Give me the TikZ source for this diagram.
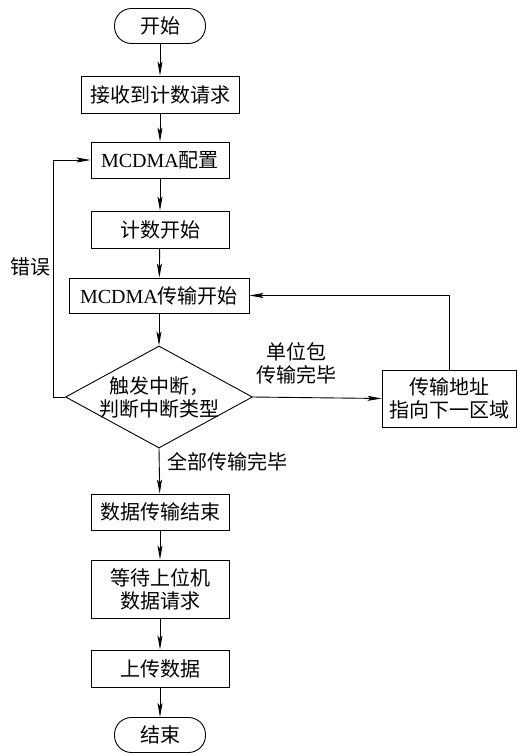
\documentclass[tikz,border=0pt]{standalone}
\usepackage{fontspec}
\setmainfont{Noto Sans CJK SC}
\newfontfamily\latin{Liberation Serif}
\usetikzlibrary{arrows.meta,shapes.geometric}
\begin{document}
\begin{tikzpicture}[x=1pt,y=-1pt,line width=0.9pt,
    font=\fontsize{20}{23}\selectfont,
    >={Stealth[length=14pt,width=5pt,inset=3pt]},
    stepbox/.style={draw,rectangle,inner sep=0pt,align=center},
    termbox/.style={draw,rectangle,rounded corners=17pt,minimum width=91pt,minimum height=35pt,inner sep=0pt},
    decide/.style={draw,diamond,aspect=1.83,inner sep=-3pt,minimum width=187pt,minimum height=102pt,align=center}]
    \useasboundingbox (0,0) rectangle (526,753);
    \node[termbox] (start) at (160,26) {开始};
    \node[stepbox,minimum width=158pt,minimum height=37pt] (recv) at (160,94.5) {接收到计数请求};
    \node[stepbox,minimum width=138pt,minimum height=36pt] (conf) at (160,160) {{\latin MCDMA}配置};
    \node[stepbox,minimum width=138pt,minimum height=37pt] (count) at (160,229.5) {计数开始};
    \node[stepbox,minimum width=180pt,minimum height=35pt] (trans) at (159,295.5) {{\latin MCDMA}传输开始};
    \node[decide] (irq) at (159,397) {触发中断，\\判断中断类型};
    \node[stepbox,minimum width=134pt,minimum height=57pt] (addr) at (449,398.5) {传输地址\\指向下一区域};
    \node[stepbox,minimum width=138pt,minimum height=36pt] (done) at (160,512) {数据传输结束};
    \node[stepbox,minimum width=138pt,minimum height=58pt] (wait) at (160,589) {等待上位机\\数据请求};
    \node[stepbox,minimum width=138pt,minimum height=37pt] (upload) at (160,668.5) {上传数据};
    \node[termbox] (stop) at (160,735) {结束};
    \coordinate (errturn) at (53,397);
    \node (errlbl) at (30,267) {错误};
    \node[align=center] (unitlbl) at (296,363) {单位包\\传输完毕};
    \node[right,inner sep=0pt] (alllbl) at (167,462) {全部传输完毕};
    \draw[->] (start) -- (recv);
    \draw[->] (recv) -- (conf);
    \draw[->] (conf) -- (count);
    \draw[->] (count) -- (trans);
    \draw[->] (trans) -- (irq);
    \draw[->] (irq.east) -- (addr.west);
    \draw[->] (addr.north) |- (trans.east);
    \draw[->] (irq.west) -- (errturn) |- (conf.west);
    \draw[->] (irq.south) -- (done);
    \draw[->] (done) -- (wait);
    \draw[->] (wait) -- (upload);
    \draw[->] (upload) -- (stop);
\end{tikzpicture}
\end{document}
